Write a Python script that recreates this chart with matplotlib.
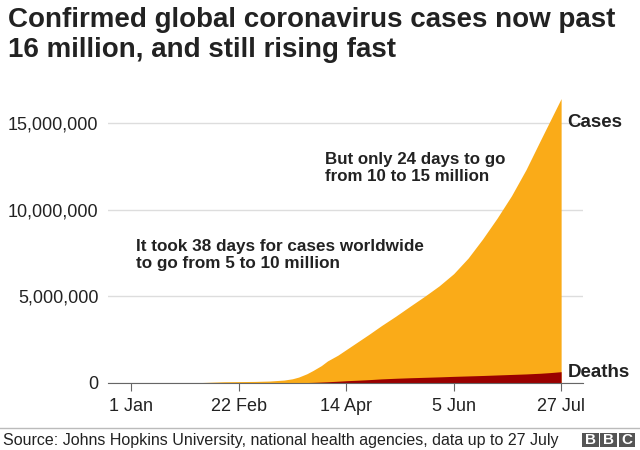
import matplotlib.pyplot as plt
from matplotlib.patches import Rectangle
from matplotlib.lines import Line2D

# days since 1 Jan 2020
days = [21, 31, 45, 60, 67, 74, 78, 81, 85, 88, 92, 95, 100, 105, 110, 115, 121, 128, 135,
        142, 149, 156, 163, 170, 177, 184, 191, 198, 203, 208]
cases = [555, 12000, 69000, 88000, 110000, 167000, 240000, 337000, 530000, 720000, 1000000,
         1270000, 1600000, 2000000, 2400000, 2800000, 3300000, 3850000, 4430000, 5000000,
         5600000, 6300000, 7200000, 8300000, 9500000, 10800000, 12300000, 14000000,
         15200000, 16400000]
deaths = [17, 260, 1660, 3000, 3800, 6500, 9800, 14600, 24000, 34000, 53000, 69000, 100000,
          134000, 160000, 190000, 234000, 270000, 300000, 325000, 350000, 380000, 405000,
          430000, 460000, 490000, 520000, 560000, 600000, 650000]

tick_days = [0, 52, 104, 156, 208]
tick_labels = ['1 Jan', '22 Feb', '14 Apr', '5 Jun', '27 Jul']
y_ticks = [0, 5000000, 10000000, 15000000]

plt.rcParams['font.family'] = ['Liberation Sans', 'DejaVu Sans']

fig = plt.figure(figsize=(6.4, 4.5), dpi=100)
ax = fig.add_axes([0.169, 0.149, 0.742, 0.655])

ax.fill_between(days, cases, color='#FAAB18', lw=0)
ax.fill_between(days, deaths, color='#990000', lw=0)

ax.set_xlim(-11.1, 218.6)
ax.set_ylim(0, 17000000)

ax.set_yticks(y_ticks)
ax.set_yticklabels(['{:,}'.format(v) for v in y_ticks], fontsize=13, color='#222222')
ax.set_xticks(tick_days)
ax.set_xticklabels(tick_labels, fontsize=13, color='#222222')
ax.tick_params(axis='y', length=0, pad=7)
ax.tick_params(axis='x', length=6, color='#666666', pad=5)
ax.grid(axis='y', color='#dddddd', lw=1)
ax.set_axisbelow(True)
for s in ['top', 'right', 'left']:
    ax.spines[s].set_visible(False)
ax.spines['bottom'].set_color('#666666')

ax.text(211, 15050000, 'Cases', fontsize=13.5, fontweight='bold', color='#222222', va='center')
ax.text(211, 580000, 'Deaths', fontsize=13.5, fontweight='bold', color='#222222', va='center')

ax.text(94, 13300000, 'But only 24 days to go\nfrom 10 to 15 million', fontsize=12.2,
        fontweight='bold', color='#222222', va='top', linespacing=1.15)
ax.text(2.5, 8300000, 'It took 38 days for cases worldwide\nto go from 5 to 10 million', fontsize=12.3,
        fontweight='bold', color='#222222', va='top', linespacing=1.15)

fig.text(0.0125, 0.985, 'Confirmed global coronavirus cases now past\n16 million, and still rising fast',
         fontsize=20, fontweight='bold', color='#222222', va='top', linespacing=1.2)

fig.add_artist(Line2D([0, 1], [1 - 428 / 450, 1 - 428 / 450], color='#bbbbbb', lw=1))
fig.text(0.005, 1 - 440 / 450, 'Source: Johns Hopkins University, national health agencies, data up to 27 July',
         fontsize=11.5, color='#222222', va='center')

for i, letter in enumerate('BBC'):
    x0 = 582 + i * 18.3
    fig.add_artist(Rectangle((x0 / 640, 1 - 447 / 450), 16.5 / 640, 14 / 450, color='#555555', lw=0))
    fig.text((x0 + 8.25) / 640, 1 - 440 / 450, letter, fontsize=11, fontweight='bold',
             color='white', ha='center', va='center')

fig.savefig('out.png', dpi=100)
